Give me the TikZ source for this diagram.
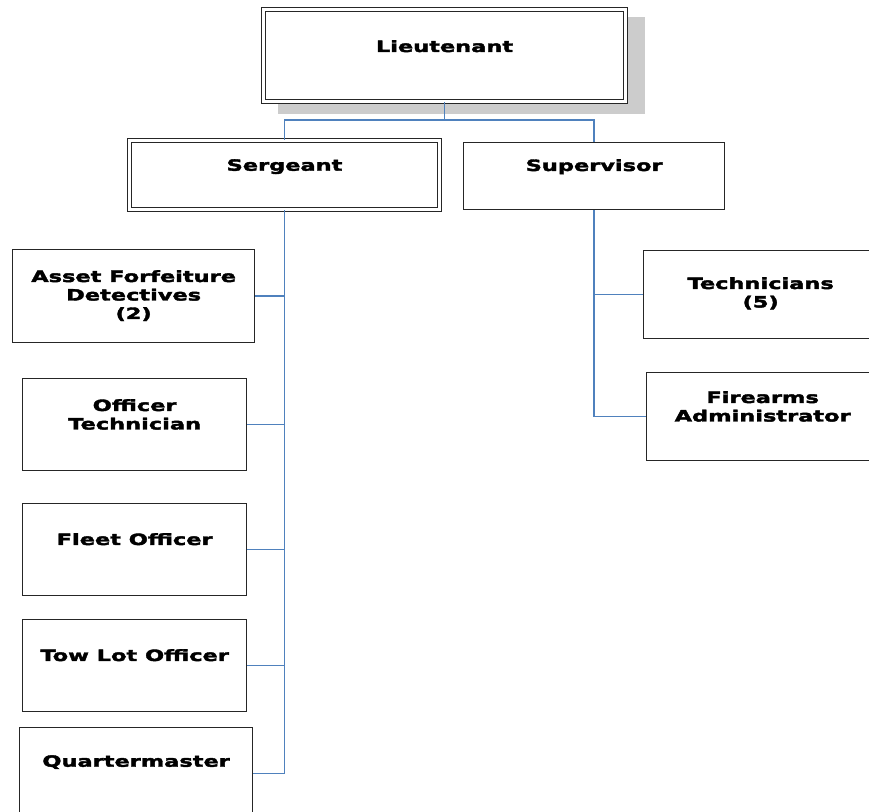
\documentclass[tikz,border=0pt]{standalone}
\usepackage{fontspec}
\newfontfamily\orgfont[FakeStretch=1.45,FakeBold=2.5]{DejaVu Sans Bold}
\usepackage{tikz}
\usetikzlibrary{positioning}
\definecolor{linkblue}{RGB}{79,129,189}
\definecolor{shadegray}{RGB}{204,204,204}
\tikzstyle{unit} = [rectangle, draw=black!85, line width=1.3pt, anchor=north west, inner sep=0pt]
\tikzstyle{chief} = [unit, double, double distance=2.5pt, line width=1.1pt]
\tikzstyle{caption} = [anchor=north, align=center, inner sep=0pt,
    font=\orgfont\fontsize{15.5}{18.5}\selectfont]
\tikzstyle{link} = [draw=linkblue, line width=1.6pt]

\begin{document}
\begin{tikzpicture}[x=1pt, y=-1pt]
\useasboundingbox (0,0) rectangle (869,811);
\clip (0,0) rectangle (869,811);
% top of the chart
\fill[shadegray] (278,17) rectangle (645,114);
\node (lt) [chief, fill=white, minimum width=362pt, minimum height=92pt] at (263,9)
    {}; \node (ltx) [caption, below=31pt of lt.north, anchor=north] {Lieutenant};
\node (sg) [chief, minimum width=310pt, minimum height=69pt] at (129,140) {};
\node (sgx) [caption, below=19pt of sg.north, anchor=north] {Sergeant};
\node (sv) [unit, minimum width=261pt, minimum height=67pt] at (463,142) {};
\node (svx) [caption, below=17pt of sv.north, anchor=north] {Supervisor};
% sergeant's staff
\node (af) [unit, minimum width=242pt, minimum height=93pt] at (12,249) {};
\node (afx) [caption, below=21pt of af.north, anchor=north] {Asset Forfeiture\\Detectives\\(2)};
\node (ot) [unit, minimum width=224pt, minimum height=92pt] at (22,378) {};
\node (otx) [caption, below=21pt of ot.north, anchor=north] {Officer\\Technician};
\node (fo) [unit, minimum width=224pt, minimum height=92pt] at (22,503) {};
\node (fox) [caption, below=30pt of fo.north, anchor=north] {Fleet Officer};
\node (tl) [unit, minimum width=224pt, minimum height=92pt] at (22,619) {};
\node (tlx) [caption, below=30pt of tl.north, anchor=north] {Tow Lot Officer};
\node (qm) [unit, minimum width=233pt, minimum height=92pt] at (19,727) {};
\node (qmx) [caption, below=28pt of qm.north, anchor=north] {Quartermaster};
% supervisor's staff
\node (tc) [unit, minimum width=234pt, minimum height=88pt] at (643,250) {};
\node (tcx) [caption, below=27pt of tc.north, anchor=north] {Technicians\\(5)};
\node (fa) [unit, minimum width=232pt, minimum height=88pt] at (646,372) {};
\node (fax) [caption, below=19pt of fa.north, anchor=north] {Firearms\\Administrator};
% connectors
\draw[link] (lt.south) -- ++(0,18) -| (sg.north);
\draw[link] (lt.south) -- ++(0,18) -| (sv.north);
\foreach \n in {af,ot,fo,tl,qm}
    \draw[link] (sg.south) |- (\n.east);
\foreach \n in {tc,fa}
    \draw[link] (sv.south) |- (\n.west);
\end{tikzpicture}
\end{document}
